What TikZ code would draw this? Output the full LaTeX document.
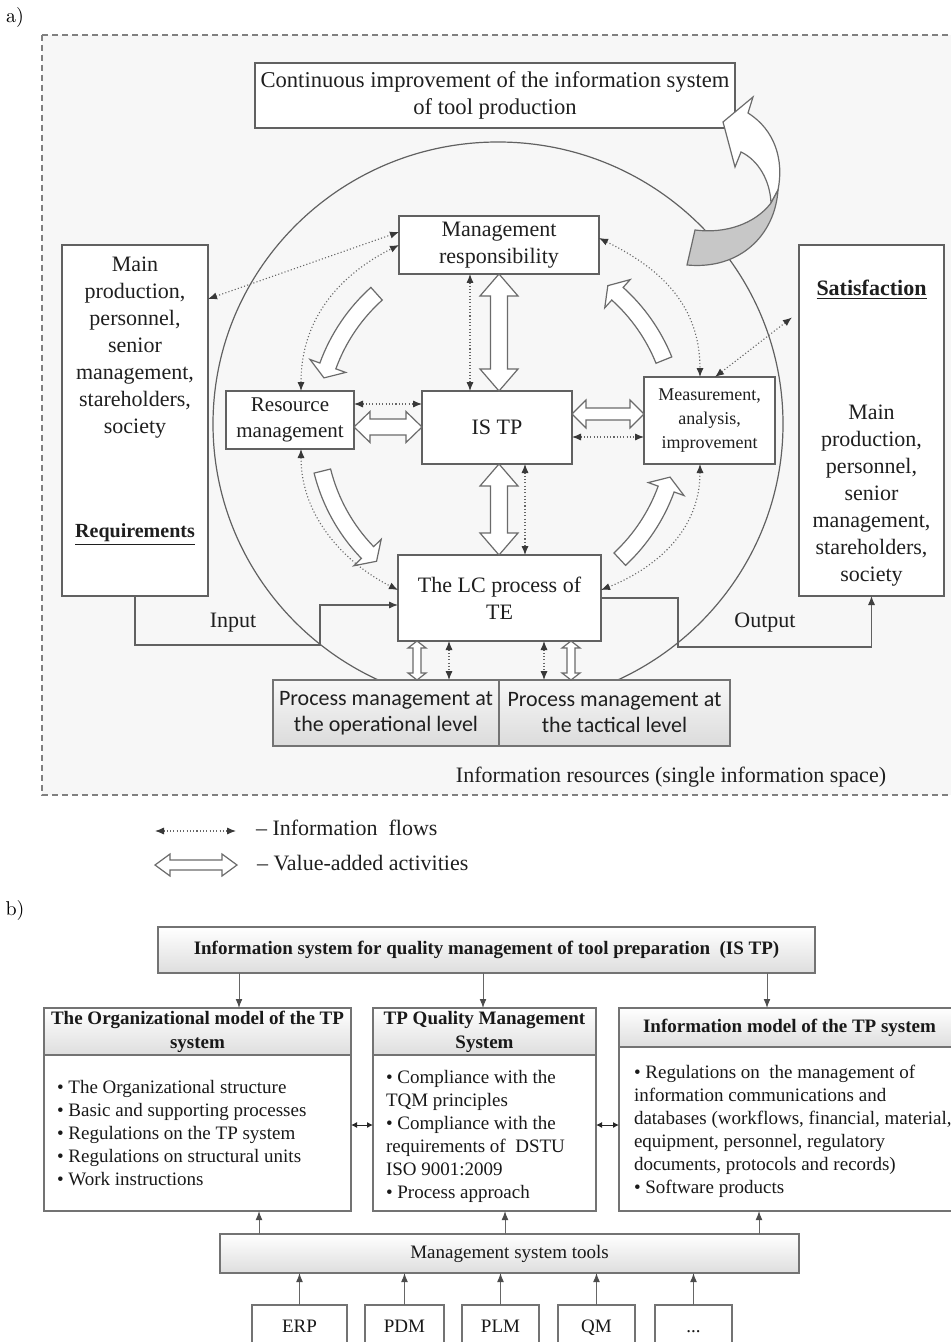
\documentclass[tikz,border=0pt]{standalone}
\usepackage{fontspec}
\newfontfamily\tnr[Ligatures=TeX]{Liberation Serif}
\newfontfamily\carl{Carlito}
\usetikzlibrary{arrows.meta,calc}

\tikzset{
  every node/.style={inner sep=0pt, outer sep=0pt},
  abox/.style={draw=black!62, fill=white, line width=0.6pt, align=center, text=black!88,
     font=\tnr\fontsize{11}{13.5}\selectfont},
  atext/.style={align=center, text=black!88, font=\tnr\fontsize{11}{13.5}\selectfont},
  pbox/.style={draw=black!55, line width=0.6pt, top color=black!3, bottom color=black!14, align=center,
     text=black!88, font=\carl\fontsize{11}{13}\selectfont},
  info/.style={draw=black!60, line width=0.55pt, dash pattern=on 0.55pt off 1.1pt, <->,
     >={Latex[length=4.5pt,width=3.6pt,color=black!78]}},
  hollow/.style={draw=black!58, fill=white, line width=0.6pt, line join=miter},
  flow/.style={draw=black!62, line width=0.6pt},
  flowarr/.style={flow, ->, >={Latex[length=4.5pt,width=3.6pt,color=black!75]}},
  hbox/.style={draw=black!55, line width=0.6pt, top color=white, bottom color=black!13, align=center,
     text=black!90, font=\tnr\bfseries\fontsize{9.5}{12}\selectfont},
  bbox/.style={draw=black!55, line width=0.6pt, fill=white},
  btext/.style={align=left, text=black!90, font=\tnr\fontsize{9.5}{11.5}\selectfont},
  tbox/.style={draw=black!55, line width=0.6pt, fill=white, text=black!90, text height=7pt, text depth=2pt,
     font=\tnr\fontsize{9.5}{11.5}\selectfont},
  barrow/.style={draw=black!60, line width=0.5pt, ->, >={Latex[length=4.5pt,width=3.4pt,color=black!70]}},
  sarrow/.style={draw=black!85, line width=0.5pt, <->, >={Latex[length=3pt,width=3pt,color=black!85]}},
}

% hollow double arrow: #1 end A, #2 end B, #3 head length, #4 head half width, #5 shaft half width
\newcommand\valarrow[5]{%
  \path (#1) coordinate (hvA) (#2) coordinate (hvB)
     ($(hvA)!#3!(hvB)$) coordinate (hvA1) ($(hvB)!#3!(hvA)$) coordinate (hvB1);
  \draw[hollow] (hvA) -- ($(hvA1)!#4!90:(hvB)$) -- ($(hvA1)!#5!90:(hvB)$)
     -- ($(hvB1)!#5!-90:(hvA)$) -- ($(hvB1)!#4!-90:(hvA)$) -- (hvB)
     -- ($(hvB1)!#4!90:(hvA)$) -- ($(hvB1)!#5!90:(hvA)$)
     -- ($(hvA1)!#5!-90:(hvB)$) -- ($(hvA1)!#4!-90:(hvB)$) -- cycle;}

% curved hollow arrow around IS TP: #1 start angle, #2 tip angle (screen, counter-clockwise)
\newcommand\ringarrow[2]{%
  \pgfmathsetmacro\raS{-(#1)}%
  \pgfmathsetmacro\raT{-(#2)}%
  \pgfmathsetmacro\raB{-(#2)+4}%
  \draw[hollow] ([shift={(\raS:188.5)}]ist.center) arc[start angle=\raS,end angle=\raB,radius=188.5]
    -- ([shift={(\raB:199)}]ist.center) -- ([shift={(\raT:180)}]ist.center)
    -- ([shift={(\raB:161)}]ist.center) -- ([shift={(\raB:171.5)}]ist.center)
    arc[start angle=\raB,end angle=\raS,radius=171.5] -- cycle;}

\begin{document}
\begin{tikzpicture}[x=0.5pt,y=-0.5pt]
\useasboundingbox (0,0) rectangle (950,1342);

% ---------------- part a ----------------
\node[font=\fontsize{10}{12}\selectfont] (la) at (15,18) {a)};
\draw[draw=black!50, fill=black!3, line width=0.6pt, dash pattern=on 3pt off 2pt] (42,35) rectangle (965,795);

\node[abox, minimum width=240pt, minimum height=32.5pt, font=\tnr\fontsize{11.3}{13.5}\selectfont] (top) at (495,95.5)
  {Continuous improvement of the information system\\ of tool production};

% big circle
\draw[flow] (498,424) ellipse [x radius=285, y radius=282];

% grey curved improvement arrow
\draw[hollow] (753,97) -- (723,122) -- (735,167) -- (741,152)
   .. controls (758,160) and (770,180) .. (771,203) -- (778,190)
   .. controls (784,160) and (775,130) .. (748,113) -- cycle;
\draw[draw=black!58, fill=black!22, line width=0.6pt, line join=miter] (695,230)
   .. controls (725,234) and (755,224) .. (771,203) -- (778,190)
   .. controls (775,235) and (740,270) .. (687,265) -- cycle;

% side boxes
\node[abox, minimum width=73pt, minimum height=175.5pt] (lbox) at (135,420.5) {};
\node[atext] (ltxt) at (135,348) {Main\\ production,\\ personnel,\\ senior\\ management,\\ stareholders,\\ society};
\node[atext, font=\tnr\bfseries\fontsize{10}{12}\selectfont] (lreq) at (135,535) {\underline{Requirements}};

\node[abox, minimum width=72.5pt, minimum height=175.5pt] (rbox) at (871.5,420.5) {};
\node[atext, font=\tnr\bfseries\fontsize{11}{13.5}\selectfont] (rsat) at (871.5,290) {\underline{Satisfaction}};
\node[atext] (rtxt) at (871.5,496) {Main\\ production,\\ personnel,\\ senior\\ management,\\ stareholders,\\ society};

% inner boxes
\node[abox, minimum width=100pt, minimum height=29pt] (mgr) at (499,245) {Management\\ responsibility};
\node[abox, minimum width=75pt, minimum height=36.5pt] (ist) at (497,427.5) {IS TP};
\node[abox, minimum width=64pt, minimum height=29pt, font=\tnr\fontsize{10.5}{13}\selectfont] (res) at (290,420) {Resource\\ management};
\node[abox, minimum width=65.5pt, minimum height=43.5pt, font=\tnr\fontsize{9}{12}\selectfont] (mea) at (709.5,420.5) {Measurement,\\ analysis,\\ improvement};
\node[abox, minimum width=101.5pt, minimum height=43pt] (lc) at (499.5,598) {The LC process of\\ TE};

\node[pbox, minimum width=113pt, minimum height=33pt] (pop) at (386,713) {Process management at\\ the operational level};
\node[pbox, minimum width=115.5pt, minimum height=33pt] (ptac) at (614.5,713) {Process management at\\ the tactical level};

% curved value-added arrows
\ringarrow{132}{164}
\ringarrow{194}{228}
\ringarrow{313}{344}
\ringarrow{22}{52}

% straight value-added arrows
\valarrow{mgr.south -| 499,0}{ist.north -| 499,0}{11pt}{9.5pt}{4.25pt}
\valarrow{ist.south -| 499,0}{lc.north -| 499,0}{11pt}{9.5pt}{4.25pt}
\valarrow{res.east |- 0,427}{ist.west |- 0,427}{8pt}{7.75pt}{4pt}
\valarrow{ist.east |- 0,414}{mea.west |- 0,414}{7pt}{7pt}{3pt}
\valarrow{lc.south -| 417,0}{pop.north -| 417,0}{3.5pt}{4.5pt}{2pt}
\valarrow{lc.south -| 571,0}{ptac.north -| 571,0}{3.5pt}{4.5pt}{2pt}

% information flows
\draw[info] (lbox.east |- 0,299) -- (mgr.west |- 0,232);
\draw[info] (res.north -| 301,0) .. controls +(0,-80) and +(-50,25) .. (mgr.west |- 0,245);
\draw[info] (res.south -| 301,0) .. controls +(0,70) and +(-50,-25) .. (lc.west |- 0,590);
\draw[info] (mgr.east |- 0,238) .. controls +(50,25) and +(0,-80) .. (mea.north -| 700,0);
\draw[info, shorten >=4.5pt] (mea.north -| 715,0) -- (rbox.west |- 0,312);
\draw[info] (mea.south -| 700,0) .. controls +(0,70) and +(50,-20) .. (lc.east |- 0,590);
\draw[info] (mgr.south -| 470,0) -- (ist.north -| 470,0);
\draw[info] (res.east |- 0,404) -- (ist.west |- 0,404);
\draw[info] (ist.east |- 0,437) -- (mea.west |- 0,437);
\draw[info] (ist.south -| 525,0) -- (lc.north -| 525,0);
\draw[info] (lc.south -| 449,0) -- (pop.north -| 449,0);
\draw[info] (lc.south -| 544,0) -- (ptac.north -| 544,0);

% input / output
\draw[flowarr] (lbox.south) |- (320,645) |- (lc.west |- 0,605);
\draw[flowarr] (lc.east |- 0,598) -| (678,647) -| (rbox.south);
\node[atext] (inp) at (233,623) {Input};
\node[atext] (outp) at (765,623) {Output};
\node[atext] (infres) at (671,777) {Information resources (single information space)};

% legend
\coordinate (lg1a) at (155,831);
\coordinate (lg1b) at (236,831);
\coordinate (lg2a) at (155,865);
\coordinate (lg2b) at (237,865);
\draw[info] (lg1a) -- (lg1b);
\valarrow{lg2a}{lg2b}{7.5pt}{5.5pt}{2.5pt}
\node[atext, anchor=west] (lgt1) at (256,828) {– Information\ \ flows};
\node[atext, anchor=west] (lgt2) at (257,863) {– Value-added activities};

% ---------------- part b ----------------
\node[font=\fontsize{10}{12}\selectfont] (lb) at (15,910) {b)};

\node[hbox, minimum width=328.5pt, minimum height=23pt] (btop) at (486.5,950)
  {Information system for quality management of tool preparation\ \ (IS TP)};

\node[hbox, minimum width=153.5pt, minimum height=23.5pt] (b1h) at (197.5,1031.5) {The Organizational model of the TP\\ system};
\node[bbox, minimum width=153.5pt, minimum height=78pt] (b1b) at (197.5,1133) {};
\node[hbox, minimum width=111.5pt, minimum height=23.5pt] (b2h) at (484.5,1031.5) {TP Quality Management\\ System};
\node[bbox, minimum width=111.5pt, minimum height=78pt] (b2b) at (484.5,1133) {};
\node[hbox, minimum width=170.5pt, minimum height=19.5pt] (b3h) at (789.5,1027.5) {Information model of the TP system};
\node[bbox, minimum width=170.5pt, minimum height=82pt] (b3b) at (789.5,1129) {};

\node[btext, anchor=north west] (b1t) at (57,1080) {• The Organizational structure\\ • Basic and supporting processes\\ • Regulations on the TP system\\ • Regulations on structural units\\ • Work instructions};
\node[btext, anchor=north west] (b2t) at (386,1070) {• Compliance with the\\ TQM principles\\ • Compliance with the\\ requirements of\ \ DSTU\\ ISO 9001:2009\\ • Process approach};
\node[btext, anchor=north west] (b3t) at (634,1065) {• Regulations on\ \ the management of\\ information communications and\\ databases (workflows, financial, material,\\ equipment, personnel, regulatory\\ documents, protocols and records)\\ • Software products};

\draw[barrow] (btop.south -| 239,0) -- (b1h.north -| 239,0);
\draw[barrow] (btop.south -| 483,0) -- (b2h.north -| 483,0);
\draw[barrow] (btop.south -| 767,0) -- (b3h.north -| 767,0);

\draw[sarrow] (b1b.east |- 0,1125) -- (b2b.west |- 0,1125);
\draw[sarrow] (b2b.east |- 0,1125) -- (b3b.west |- 0,1125);

\node[hbox, font=\tnr\fontsize{9.5}{11.5}\selectfont, minimum width=289.5pt, minimum height=19.5pt] (tools) at (509.5,1253.5) {Management system tools};

\draw[barrow] (tools.north -| 259,0) -- (b1b.south -| 259,0);
\draw[barrow] (tools.north -| 505,0) -- (b2b.south -| 505,0);
\draw[barrow] (tools.north -| 759,0) -- (b3b.south -| 759,0);

\node[tbox, minimum width=47.5pt, minimum height=22pt] (erp) at (299.5,1327) {ERP};
\node[tbox, minimum width=39.5pt, minimum height=22pt] (pdm) at (404.5,1327) {PDM};
\node[tbox, minimum width=38.5pt, minimum height=22pt] (plm) at (500.5,1327) {PLM};
\node[tbox, minimum width=38.5pt, minimum height=22pt] (qm) at (596.5,1327) {QM};
\node[tbox, minimum width=38.5pt, minimum height=22pt] (etc) at (693.5,1327) {...};

\foreach \n in {erp,pdm,plm,qm,etc}
  \draw[barrow] (\n.north) -- (tools.south -| \n.north);

\end{tikzpicture}
\end{document}
